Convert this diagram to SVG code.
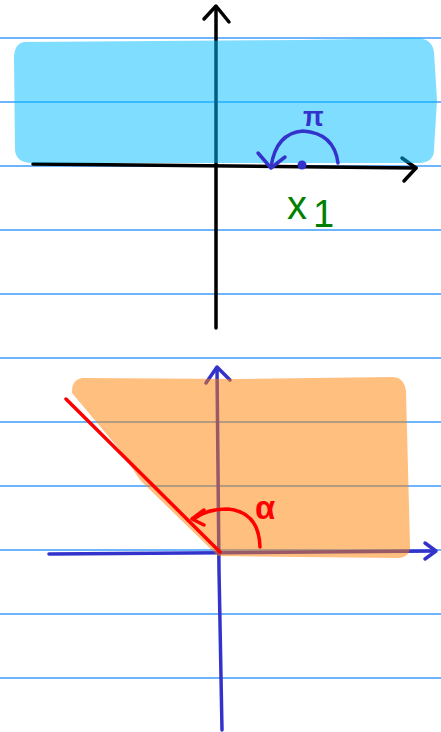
<svg xmlns="http://www.w3.org/2000/svg" width="441" height="732" viewBox="0 0 441 732">
<style>
.rule{stroke:#3d9cff;stroke-width:1.5;fill:none}
.pen{fill:none;stroke-linecap:round;stroke-linejoin:round}
.blk{stroke:#000;stroke-width:3.5}
.blu{stroke:#3333cc;stroke-width:3.5}
.red{stroke:#ff0000;stroke-width:3.5}
.lbl{font-family:"Liberation Sans","DejaVu Sans",sans-serif}
</style>
<rect width="441" height="732" fill="#fff"/>
<g id="rules">
<line class="rule" x1="0" y1="38" x2="441" y2="38"/>
<line class="rule" x1="0" y1="102" x2="441" y2="102"/>
<line class="rule" x1="0" y1="166" x2="441" y2="166"/>
<line class="rule" x1="0" y1="230" x2="441" y2="230"/>
<line class="rule" x1="0" y1="294" x2="441" y2="294"/>
<line class="rule" x1="0" y1="358" x2="441" y2="358"/>
<line class="rule" x1="0" y1="422" x2="441" y2="422"/>
<line class="rule" x1="0" y1="486" x2="441" y2="486"/>
<line class="rule" x1="0" y1="550" x2="441" y2="550"/>
<line class="rule" x1="0" y1="614" x2="441" y2="614"/>
<line class="rule" x1="0" y1="678" x2="441" y2="678"/>
</g>
<g id="top-plot">
<path class="pen blk" d="M216,7 L216,328"/>
<path class="pen blk" d="M204,19 L216,6 L229,22"/>
<path class="pen blk" d="M33,164 L416,168"/>
<path class="pen blk" d="M402,158 L416,168 L404,181"/>
<path d="M24,42 Q14,44 14,58 L15,150 Q16,162 30,163 L420,163 Q434,162 434,150 L437,100 L434,52 Q432,38 416,38 L300,40 Z" fill="#00bdff" fill-opacity="0.5"/>
<path class="pen blu" d="M338,163 Q334,133 303,131 Q276,133 271,167"/>
<path class="pen blu" d="M258,153 L271,168 L285,157"/>
<circle cx="302" cy="165" r="4.5" fill="#3333cc"/>
<text class="lbl" x="303" y="126" font-size="27" font-weight="bold" fill="#3333cc">π</text>
<text class="lbl" x="287" y="219" font-size="40" fill="#008000">x<tspan x="313" y="227" font-size="38">1</tspan></text>
</g>
<g id="bottom-plot">
<path class="pen blu" d="M217,368 L219,570 L222,730"/>
<path class="pen blu" d="M206,383 L217,367 L230,380"/>
<path class="pen blu" d="M49,554 L435,551"/>
<path class="pen blu" d="M425,543 L436,551 L425,559"/>
<path d="M82,378 Q71,380 72,393 L120,450 L140,480 L218,556 L398,558 Q411,557 410,545 L406,392 Q405,378 393,377 L240,379 Z" fill="#ff8000" fill-opacity="0.5"/>
<path class="pen red" d="M66,399 L220,552"/>
<path class="pen red" d="M260,547 Q259,512 228,509 Q206,509 194,519"/>
<path class="pen red" d="M204,510 L192,519 L204,525"/>
<text class="lbl" x="255" y="519" font-size="33" font-weight="bold" fill="#ff0000">α</text>
</g>
</svg>
